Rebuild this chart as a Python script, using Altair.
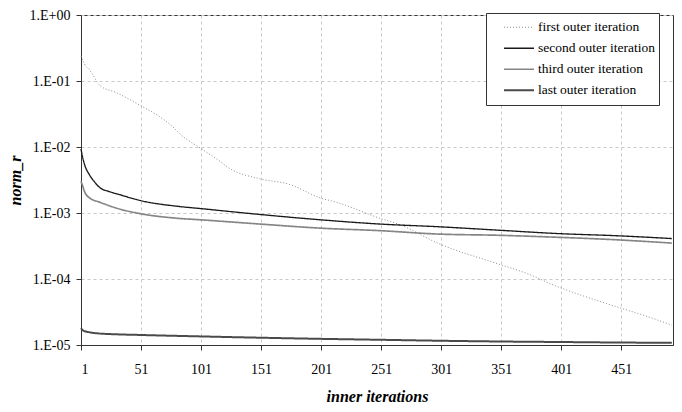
import altair as alt
import pandas as pd

# ---- data ----
series_names = ["first outer iteration", "second outer iteration",
                "third outer iteration", "last outer iteration"]

first_iter = [1, 4, 8, 17, 31, 50, 65, 79, 83, 99, 114, 125, 150, 175, 200, 214,
              250, 267, 298, 348, 373, 396, 400, 443, 470, 493]
first_val = [0.24, 0.18, 0.148, 0.085, 0.066, 0.043, 0.030, 0.019, 0.016, 0.010,
             0.0066, 0.0047, 0.0033, 0.0027, 0.0017, 0.00145, 0.00083, 0.00066,
             0.00035, 0.00017, 0.00012, 0.000079, 0.000074, 0.000040, 0.000028,
             0.000020]

second_iter = [1, 2, 4, 8, 12, 17, 25, 33, 50, 82, 100, 150, 200, 250, 298, 348,
               396, 450, 493]
second_val = [0.0093, 0.0075, 0.0054, 0.0038, 0.0030, 0.0024, 0.0021, 0.0019,
              0.00155, 0.00126, 0.00117, 0.00095, 0.00079, 0.00068, 0.00062,
              0.00055, 0.00049, 0.00045, 0.00041]

third_iter = [1, 2, 4, 8, 17, 33, 50, 82, 100, 150, 200, 250, 298, 348, 396, 450,
              493]
third_val = [0.0030, 0.0027, 0.0021, 0.0017, 0.00145, 0.00115, 0.00098, 0.00083,
             0.00079, 0.00068, 0.00059, 0.00054, 0.00048, 0.00046, 0.00043,
             0.00039, 0.00035]

last_iter = [1, 3, 8, 15, 27, 50, 100, 150, 200, 250, 300, 350, 400, 450, 493]
last_val = [1.8e-5, 1.65e-5, 1.56e-5, 1.5e-5, 1.46e-5, 1.42e-5, 1.35e-5, 1.29e-5,
            1.24e-5, 1.2e-5, 1.16e-5, 1.13e-5, 1.11e-5, 1.09e-5, 1.08e-5]

x_ticks = [1, 51, 101, 151, 201, 251, 301, 351, 401, 451]
y_ticks = [1e-5, 1e-4, 1e-3, 1e-2, 1e-1, 1]

rows = []
for name, xs, vs in zip(series_names,
                        [first_iter, second_iter, third_iter, last_iter],
                        [first_val, second_val, third_val, last_val]):
    for i, v in zip(xs, vs):
        rows.append({"series": name, "iter": i, "val": v})
df = pd.DataFrame(rows)

FONT = "Liberation Serif"

line_colors = ["#8c8c8c", "#1a1a1a", "#858585", "#4a4a4a"]
line_dash = [[1, 2], [1, 0], [1, 0], [1, 0]]
line_width = [1, 2, 2, 1.2]

leg = alt.Legend(title=None)

chart = alt.Chart(df).mark_line(interpolate="monotone").encode(
    x=alt.X("iter:Q",
            scale=alt.Scale(domain=[1, 494], nice=False, zero=False),
            axis=alt.Axis(values=x_ticks, title="inner iterations",
                          labelFontSize=14, titleFontSize=16,
                          tickSize=5, labelPadding=12, titlePadding=12,
                          gridDash=[3, 3], gridColor="#c8c8c8")),
    y=alt.Y("val:Q",
            scale=alt.Scale(type="log", domain=[1e-5, 1], nice=False),
            axis=alt.Axis(values=y_ticks, title="norm_r",
                          labelExpr="datum.value >= 1 ? '1.E+00' : '1.E-0' + format(-log(datum.value)/LN10, '.0f')",
                          labelFontSize=14, titleFontSize=16,
                          tickSize=5, labelPadding=6, titlePadding=6,
                          gridDash=[3, 3], gridColor="#c8c8c8")),
    color=alt.Color("series:N", scale=alt.Scale(domain=series_names, range=line_colors),
                    legend=leg),
    strokeDash=alt.StrokeDash("series:N", scale=alt.Scale(domain=series_names, range=line_dash),
                              legend=leg),
    strokeWidth=alt.StrokeWidth("series:N", scale=alt.Scale(domain=series_names, range=line_width),
                                legend=leg),
).properties(
    width=592, height=330,
    autosize=alt.AutoSizeParams(type="none"),
    padding={"left": 73, "top": 7, "right": 1, "bottom": 59},
).configure(
    font=FONT,
).configure_axis(
    labelFont=FONT, titleFont=FONT,
    labelColor="black", titleColor="black",
    domainColor="#333333", tickColor="#333333", titleFontWeight="bold",
    titleFontStyle="italic",
).configure_legend(
    orient="none", legendX=405, legendY=-2,
    strokeColor="#333333", fillColor="white", padding=4,
    symbolType="stroke", symbolSize=900, labelFont=FONT, labelFontSize=13.5,
    labelColor="black", rowPadding=0, clipHeight=20.5,
    symbolOffset=13, labelOffset=3,
).configure_view(
    stroke="#333333",
)

chart.save("out.html", embed_options={"renderer": "svg", "actions": False})
